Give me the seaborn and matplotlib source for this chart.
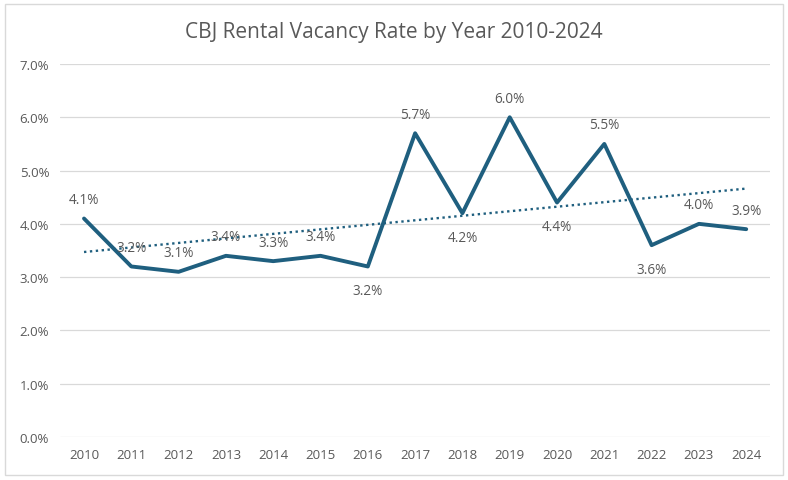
import numpy as np
import pandas as pd
import seaborn as sns
import matplotlib.pyplot as plt
from matplotlib.ticker import PercentFormatter
from matplotlib.patches import Rectangle

years = [str(y) for y in range(2010, 2025)]
vacancy = [4.1, 3.2, 3.1, 3.4, 3.3, 3.4, 3.2, 5.7, 4.2, 6.0, 4.4, 5.5, 3.6, 4.0, 3.9]
# where each data label sits: 1 above the point, -1 below
label_side = [1, 1, 1, 1, 1, 1, -1, 1, -1, 1, -1, 1, -1, 1, 1]

df = pd.DataFrame({"year": years, "rate": vacancy})
df["pos"] = np.arange(len(df))

sns.set_theme(style="white")
plt.rcParams["font.family"] = ["Open Sans", "DejaVu Sans"]

line_col = "#1f5f7f"
grey = "#595959"

fig = plt.figure(figsize=(7.88, 4.81), dpi=100)
ax = fig.add_axes([0.0766, 0.0894, 0.9004, 0.7755])

sns.lineplot(data=df, x="pos", y="rate", ax=ax, color=line_col, linewidth=2.8)

# linear trendline, like Excel's
k, b = np.polyfit(df["pos"], df["rate"], 1)
ax.plot(df["pos"], k * df["pos"] + b, color=line_col, linewidth=1.7, linestyle=(0, (1, 1.5)))

for x, y, s in zip(df["pos"], df["rate"], label_side):
    dy = 19 if s > 0 else -24
    ax.annotate(f"{y:.1f}%", (x, y), xytext=(0, dy), textcoords="offset pixels",
                ha="center", va="center", fontsize=9.8, color=grey)

ax.set_xlim(-0.5, len(df) - 0.5)
ax.set_ylim(0, 7)
ax.set_yticks(np.arange(0, 7.1, 1))
ax.yaxis.set_major_formatter(PercentFormatter(decimals=1))
ax.set_xticks(df["pos"])
ax.set_xticklabels(years)
ax.grid(axis="y", color="#d9d9d9", linewidth=0.9)
ax.set_axisbelow(True)
for sp in ax.spines.values():
    sp.set_visible(False)
ax.tick_params(axis="both", length=0, labelsize=9.5, colors=grey, pad=8)
ax.set_xlabel("")
ax.set_ylabel("")

fig.text(0.5, 0.933, "CBJ Rental Vacancy Rate by Year 2010-2024", ha="center", va="center",
         fontsize=15, color=grey)
fig.patches.append(Rectangle((0.006, 0.01), 0.988, 0.98, transform=fig.transFigure,
                             fill=False, edgecolor="#d9d9d9", linewidth=1))

fig.savefig("out.png", dpi=100)
